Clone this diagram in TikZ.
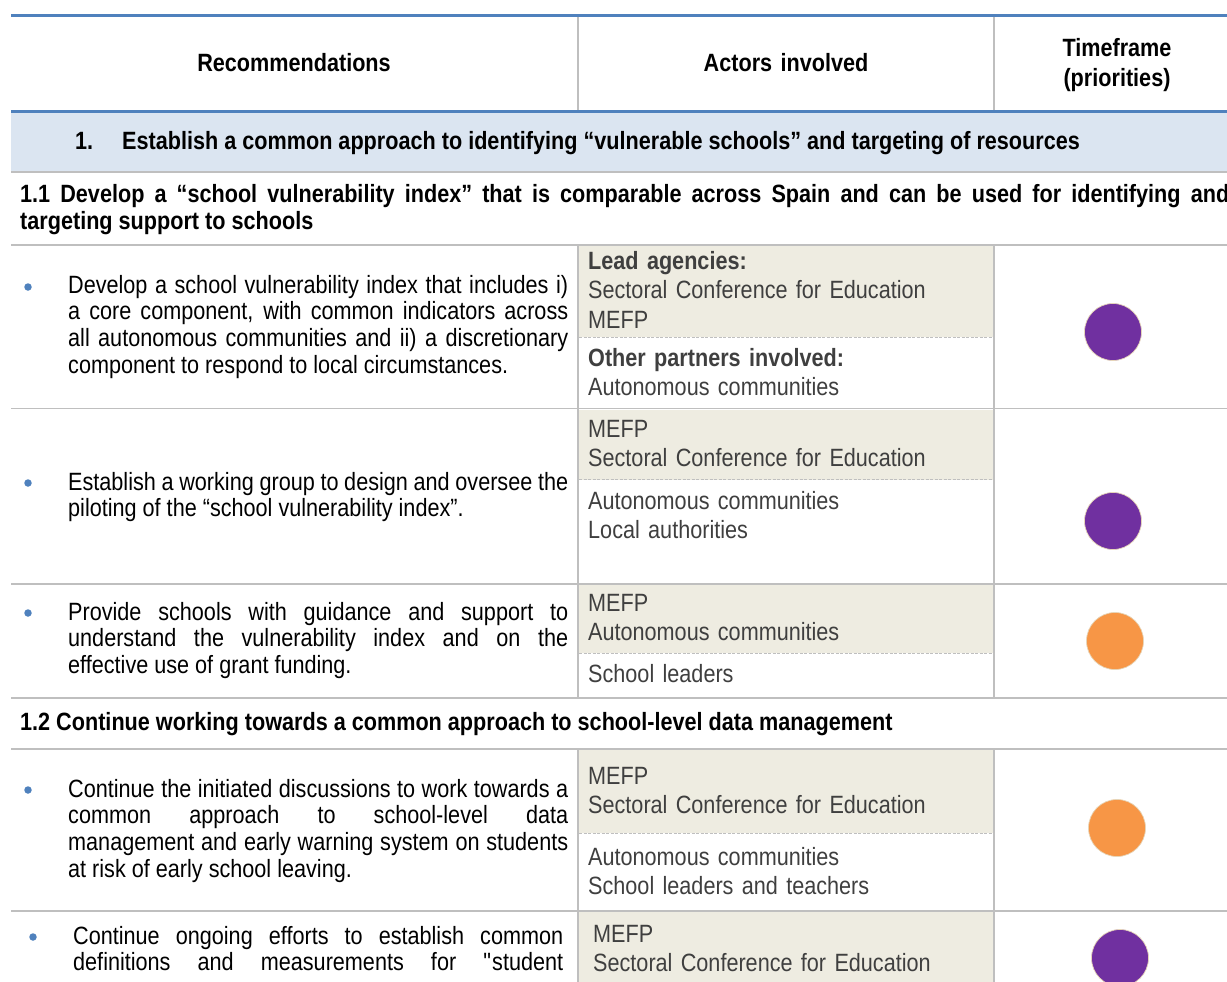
\documentclass[tikz,border=0pt]{standalone}
\usepackage{fontspec}
\setmainfont{Liberation Sans}[FakeStretch=0.865]
\definecolor{tblue}{HTML}{4F81BD}
\definecolor{secfill}{HTML}{DBE5F1}
\definecolor{gridgray}{HTML}{BFBFBF}
\definecolor{actfill}{HTML}{EEECE1}
\definecolor{actgray}{HTML}{3F3F3F}
\definecolor{prpurple}{HTML}{7030A0}
\definecolor{prorange}{HTML}{F79646}
\definecolor{circedge}{HTML}{E6D5B8}
\begin{document}
\begin{tikzpicture}[x=1pt,y=-1pt,
  bodytxt/.style={anchor=base west, inner sep=0pt, text width=500pt, align=justify, font=\fontsize{25}{26.7}\selectfont},
  actortxt/.style={anchor=base west, inner sep=0pt, text width=400pt, align=left, text=actgray, font=\fontsize{25}{29.5}\selectfont},
  headtxt/.style={anchor=base, inner sep=0pt, text width=220pt, align=center, font=\bfseries\fontsize{25}{29}\selectfont},
  subtxt/.style={anchor=base west, inner sep=0pt, align=justify, font=\bfseries\fontsize{25}{27}\selectfont},
  bulletdot/.style={circle, fill=tblue, minimum size=7.5pt, inner sep=0pt},
  prio/.style={circle, minimum size=57pt, inner sep=0pt, draw=circedge, line width=0.7pt},
  gridline/.style={draw=gridgray, line width=1.6pt},
  dashline/.style={draw=gridgray, line width=1pt, dash pattern=on 3pt off 1.5pt},
  blueline/.style={draw=tblue, line width=3pt},
  actorbg/.style={fill=actfill, draw=none},
]
\useasboundingbox (0,0) rectangle (1227,982);
\clip (0,0) rectangle (1227,982);

% backgrounds
\fill[secfill] (11,112.5) rectangle (1227,171);
\fill[actorbg] (579,246) rectangle (993,337);
\fill[actorbg] (579,409.5) rectangle (993,479.5);
\fill[actorbg] (579,585) rectangle (993,653);
\fill[actorbg] (579,750) rectangle (993,833);
\fill[actorbg] (579,912) rectangle (993,982);

% dashed separators
\foreach \yy in {337,479.5,653,833}
  \draw[dashline] (579,\yy) -- (993,\yy);

% horizontal grid lines
\foreach \yy in {172,245,408.5,584,698,749,911}
  \draw[gridline] (11,\yy) -- (1227,\yy);

% vertical grid lines
\foreach \xx in {578,994} {
  \draw[gridline] (\xx,17) -- (\xx,110.5);
  \draw[gridline] (\xx,245) -- (\xx,698);
  \draw[gridline] (\xx,749) -- (\xx,982);
}

% blue rules
\draw[blueline] (11,15.5) -- (1227,15.5);
\draw[blueline, line width=2.5pt] (11,111.5) -- (1227,111.5);

% header
\node[headtxt] (hrec) at (294,72) {Recommendations};
\node[headtxt] (hact) at (786,72) {Actors involved};
\node[headtxt] (htime) at (1117,57) {Timeframe\\(priorities)};

% section 1
\node[subtxt] (s1num) at (75,149) {1.};
\node[subtxt] (s1txt) at (122,149) {Establish a common approach to identifying “vulnerable schools” and targeting of resources};

% sub-heading 1.1
\node[subtxt, text width=1209pt] (s11) at (20,202) {1.1 Develop a “school vulnerability index” that is comparable across Spain and can be used for identifying and\linebreak targeting support to schools};

% row 1
\node[bulletdot] (b1) at (28,287) {};
\node[bodytxt] (r1txt) at (68,293) {Develop a school vulnerability index that includes i)\linebreak a core component, with common indicators across\linebreak all autonomous communities and ii) a discretionary\linebreak component to respond to local circumstances.};
\node[actortxt] (r1lead) at (588,269) {\textbf{Lead agencies:}\\Sectoral Conference for Education\\MEFP};
\node[actortxt] (r1oth) at (588,366) {\textbf{Other partners involved:}\\Autonomous communities};
\node[prio, fill=prpurple] (p1) at (1113,332) {};

% row 2
\node[bulletdot] (b2) at (28,483) {};
\node[bodytxt] (r2txt) at (68,490) {Establish a working group to design and oversee the\linebreak piloting of the “school vulnerability index”.};
\node[actortxt] (r2lead) at (588,437) {MEFP\\Sectoral Conference for Education};
\node[actortxt] (r2oth) at (588,509) {Autonomous communities\\Local authorities};
\node[prio, fill=prpurple] (p2) at (1113,521) {};

% row 3
\node[bulletdot] (b3) at (28,613) {};
\node[bodytxt] (r3txt) at (68,620) {Provide schools with guidance and support to\linebreak understand the vulnerability index and on the\linebreak effective use of grant funding.};
\node[actortxt] (r3lead) at (588,611) {MEFP\\Autonomous communities};
\node[actortxt] (r3oth) at (588,682) {School leaders};
\node[prio, fill=prorange] (p3) at (1115,641) {};

% sub-heading 1.2
\node[subtxt] (s12) at (20,730) {1.2 Continue working towards a common approach to school-level data management};

% row 4
\node[bulletdot] (b4) at (28,790) {};
\node[bodytxt] (r4txt) at (68,797) {Continue the initiated discussions to work towards a\linebreak common approach to school-level data\linebreak management and early warning system on students\linebreak at risk of early school leaving.};
\node[actortxt] (r4lead) at (588,784) {MEFP\\Sectoral Conference for Education};
\node[actortxt] (r4oth) at (588,865) {Autonomous communities\\School leaders and teachers};
\node[prio, fill=prorange] (p4) at (1117,828) {};

% row 5
\node[bulletdot] (b5) at (33,937) {};
\node[bodytxt, text width=490pt] (r5txt) at (73,944) {Continue ongoing efforts to establish common\linebreak definitions and measurements for \textquotedbl student\linebreak};
\node[actortxt] (r5lead) at (593,942) {MEFP\\Sectoral Conference for Education};
\node[prio, fill=prpurple] (p5) at (1120,958) {};
\end{tikzpicture}
\end{document}
